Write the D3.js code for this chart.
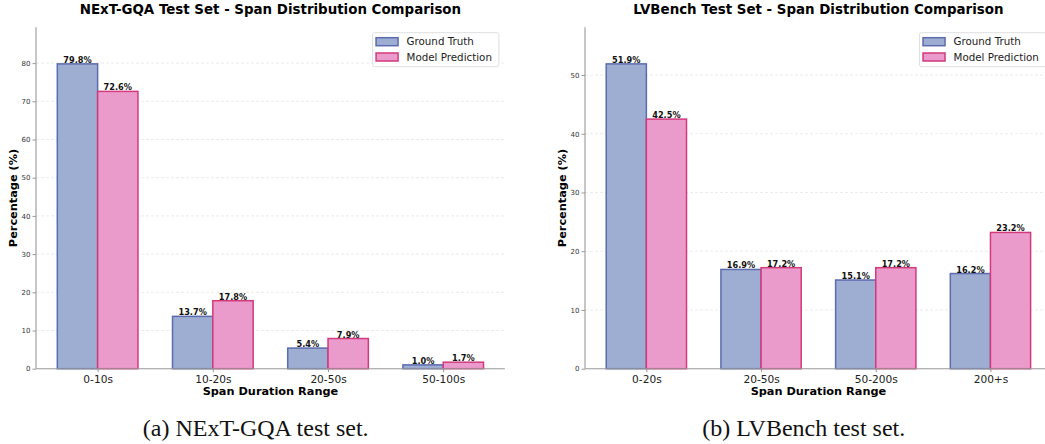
<!DOCTYPE html>
<html>
<head>
<meta charset="utf-8">
<script src="https://cdn.jsdelivr.net/npm/d3@7"></script>
<style>
body { margin: 0; background: #fff; }
svg { display: block; }
.tick text { font-family: "DejaVu Sans", sans-serif; }
</style>
</head>
<body>
<svg id="chart" width="1045" height="444"></svg>
<script>
var seriesNames = ["Ground Truth", "Model Prediction"];

var nextCategories = ["0-10s", "10-20s", "20-50s", "50-100s"];
var nextGroundTruth = [79.8, 13.7, 5.4, 1.0];
var nextPrediction = [72.6, 17.8, 7.9, 1.7];
var nextTicks = [0, 10, 20, 30, 40, 50, 60, 70, 80];

var lvCategories = ["0-20s", "20-50s", "50-200s", "200+s"];
var lvGroundTruth = [51.9, 16.9, 15.1, 16.2];
var lvPrediction = [42.5, 17.2, 17.2, 23.2];
var lvTicks = [0, 10, 20, 30, 40, 50];

var fills = ["#9eaed3", "#eb9bcb"];
var edges = ["#5c6bad", "#d23a7c"];

SpanPanel = function(svg, opts){
	var barWidth = 0.35;
	this.draw = function(categories, gt, pred, ticks, title, caption){
		var g = svg.append("g");
		var n = categories.length;
		// matplotlib default 5% margin around the bars
		var lo = -barWidth, hi = n - 1 + barWidth;
		var pad = (hi - lo) * 0.05;
		var x = d3.scaleLinear().domain([lo - pad, hi + pad]).range([opts.left, opts.left + opts.unit * (hi - lo + 2 * pad)]);
		var ymax = d3.max(gt.concat(pred)) * 1.12;
		var y = d3.scaleLinear().domain([0, ymax]).range([opts.bottom, opts.top]);
		var right = x.range()[1];

		// grid
		g.append("g").selectAll("line").data(ticks.slice(1)).enter().append("line")
			.attr("x1", opts.left).attr("x2", right)
			.attr("y1", function(d){ return y(d); }).attr("y2", function(d){ return y(d); })
			.attr("stroke", "#e6e6e6").attr("stroke-width", 0.8).attr("stroke-dasharray", "3,2");

		var series = [gt, pred];
		series.forEach(function(values, s){
			var offset = s === 0 ? -barWidth / 2 : barWidth / 2;
			var bars = g.append("g");
			bars.selectAll("rect").data(values).enter().append("rect")
				.attr("x", function(d, i){ return x(i + offset - barWidth / 2); })
				.attr("width", function(){ return x(barWidth) - x(0); })
				.attr("y", function(d){ return y(d); })
				.attr("height", function(d){ return y(0) - y(d); })
				.attr("fill", fills[s]).attr("stroke", edges[s]).attr("stroke-width", 1.5);
			bars.selectAll("text").data(values).enter().append("text")
				.attr("x", function(d, i){ return x(i + offset); })
				.attr("y", function(d){ return y(d) - 1; })
				.attr("text-anchor", "middle")
				.style("font-family", "DejaVu Sans").style("font-weight", "bold").style("font-size", "8.2px")
				.attr("fill", "#111")
				.text(function(d){ return d.toFixed(1) + "%"; });
		});

		// axes
		var yAxis = g.append("g").attr("transform", "translate(" + opts.left + ",0)")
			.call(d3.axisLeft(y).tickValues(ticks).tickSize(3.5).tickPadding(2));
		yAxis.select(".domain").attr("d", "M0," + y(0) + "V" + opts.top).attr("stroke", "#999").attr("stroke-width", 1.1);
		yAxis.selectAll(".tick line").attr("stroke", "#999");
		yAxis.selectAll(".tick text").style("font-size", "7px").attr("fill", "#333");

		var xAxis = g.append("g").attr("transform", "translate(0," + y(0) + ")")
			.call(d3.axisBottom(x).tickValues(d3.range(n)).tickFormat(function(i){ return categories[i]; }).tickSize(3.5).tickPadding(3));
		xAxis.select(".domain").attr("d", "M" + opts.left + ",0H" + right).attr("stroke", "#999").attr("stroke-width", 1.1);
		xAxis.selectAll(".tick line").attr("stroke", "#999");
		xAxis.selectAll(".tick text").style("font-size", "10.6px").attr("fill", "#222");

		var mid = (opts.left + right) / 2;
		g.append("text").attr("x", mid).attr("y", 13.5).attr("text-anchor", "middle")
			.style("font-family", "DejaVu Sans").style("font-weight", "bold").style("font-size", "13.4px")
			.text(title);
		g.append("text").attr("x", mid).attr("y", 395).attr("text-anchor", "middle")
			.style("font-family", "DejaVu Sans").style("font-weight", "bold").style("font-size", "11.3px")
			.text("Span Duration Range");
		g.append("text").attr("transform", "translate(" + opts.ylabelX + "," + ((opts.top + opts.bottom) / 2) + ") rotate(-90)")
			.attr("text-anchor", "middle")
			.style("font-family", "DejaVu Sans").style("font-weight", "bold").style("font-size", "11.3px")
			.text("Percentage (%)");

		// legend
		var lw = 126.3, lx = right - 6 - lw, ly = 32.7;
		var legend = g.append("g");
		legend.append("rect").attr("x", lx).attr("y", ly).attr("width", lw).attr("height", 34)
			.attr("rx", 2).attr("fill", "#fff").attr("fill-opacity", 0.85).attr("stroke", "#d6d6d6").attr("stroke-width", 0.8);
		seriesNames.forEach(function(name, s){
			var cy = ly + 9 + s * 15.3;
			legend.append("rect").attr("x", lx + 3.5).attr("y", cy - 4).attr("width", 22).attr("height", 8)
				.attr("fill", fills[s]).attr("stroke", edges[s]).attr("stroke-width", 1.5);
			legend.append("text").attr("x", lx + 34).attr("y", cy + 3.7)
				.style("font-family", "DejaVu Sans").style("font-size", "10.3px").attr("fill", "#222")
				.text(name);
		});

		svg.append("text").attr("x", opts.captionX).attr("y", 436).attr("text-anchor", "middle")
			.style("font-family", "Liberation Serif, Times New Roman, serif").style("font-size", "24px")
			.attr("fill", "#111")
			.text(caption);
	};
};

var svg = d3.select("#chart");
new SpanPanel(svg, {left: 36, unit: 115.2, top: 27.3, bottom: 368.7, ylabelX: 16.5, captionX: 255.7})
	.draw(nextCategories, nextGroundTruth, nextPrediction, nextTicks, "NExT-GQA Test Set - Span Distribution Comparison", "(a) NExT-GQA test set.");
new SpanPanel(svg, {left: 585, unit: 114.7, top: 27.3, bottom: 368.7, ylabelX: 566, captionX: 803.7})
	.draw(lvCategories, lvGroundTruth, lvPrediction, lvTicks, "LVBench Test Set - Span Distribution Comparison", "(b) LVBench test set.");
</script>
</body>
</html>
